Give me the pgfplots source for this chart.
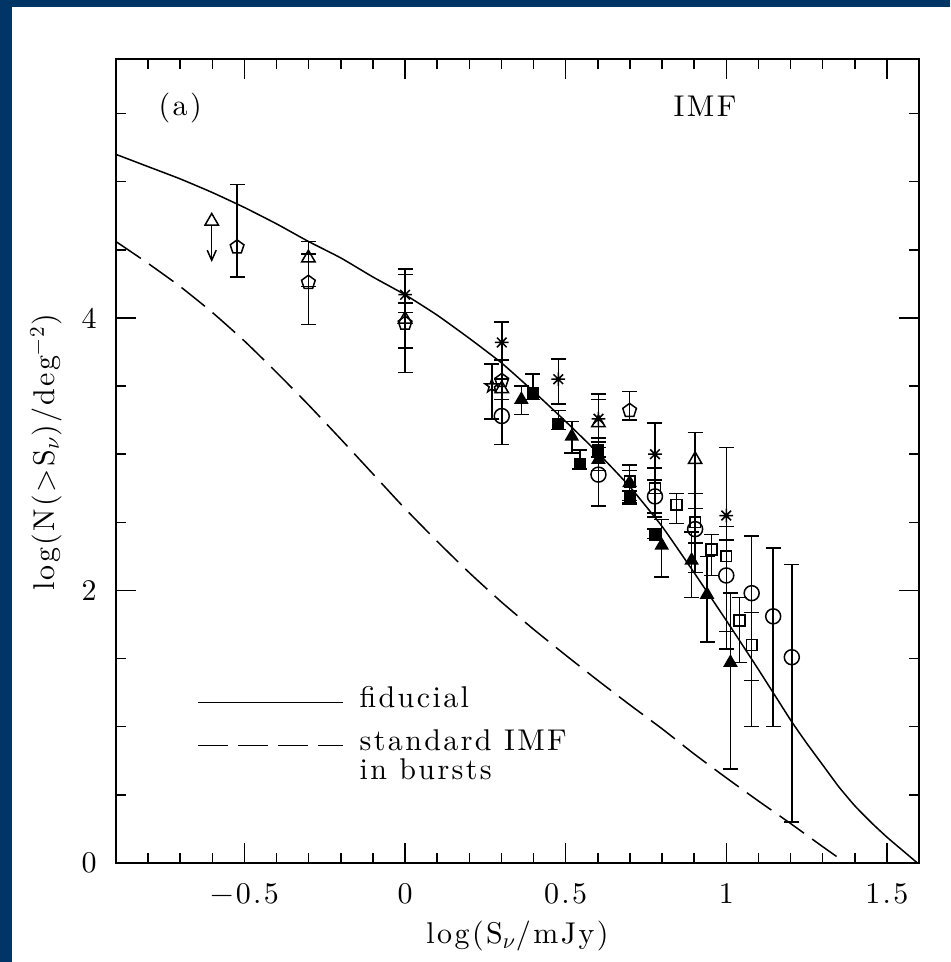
\documentclass[border=0pt]{standalone}
\usepackage{fontspec}
\setmainfont{lmroman10-regular.otf}[LetterSpace=8]
\usepackage{pgfplots}
\pgfplotsset{compat=1.18}
\usetikzlibrary{arrows.meta}
\definecolor{framenavy}{RGB}{0,53,102}
\newcommand\lbl{\fontsize{15}{18}\selectfont}

% eight-ray asterisk
\pgfdeclareplotmark{ast8}{%
  \pgfpathmoveto{\pgfqpoint{-\pgfplotmarksize}{0pt}}\pgfpathlineto{\pgfqpoint{\pgfplotmarksize}{0pt}}%
  \pgfpathmoveto{\pgfqpoint{0pt}{-\pgfplotmarksize}}\pgfpathlineto{\pgfqpoint{0pt}{\pgfplotmarksize}}%
  \pgfpathmoveto{\pgfqpoint{-.7071\pgfplotmarksize}{-.7071\pgfplotmarksize}}\pgfpathlineto{\pgfqpoint{.7071\pgfplotmarksize}{.7071\pgfplotmarksize}}%
  \pgfpathmoveto{\pgfqpoint{-.7071\pgfplotmarksize}{.7071\pgfplotmarksize}}\pgfpathlineto{\pgfqpoint{.7071\pgfplotmarksize}{-.7071\pgfplotmarksize}}%
  \pgfusepathqstroke}
% open five-pointed star
\pgfdeclareplotmark{ostar}{%
  \pgfpathmoveto{\pgfqpointpolar{90}{\pgfplotmarksize}}%
  \pgfpathlineto{\pgfqpointpolar{126}{.4\pgfplotmarksize}}%
  \pgfpathlineto{\pgfqpointpolar{162}{\pgfplotmarksize}}%
  \pgfpathlineto{\pgfqpointpolar{198}{.4\pgfplotmarksize}}%
  \pgfpathlineto{\pgfqpointpolar{234}{\pgfplotmarksize}}%
  \pgfpathlineto{\pgfqpointpolar{270}{.4\pgfplotmarksize}}%
  \pgfpathlineto{\pgfqpointpolar{306}{\pgfplotmarksize}}%
  \pgfpathlineto{\pgfqpointpolar{342}{.4\pgfplotmarksize}}%
  \pgfpathlineto{\pgfqpointpolar{18}{\pgfplotmarksize}}%
  \pgfpathlineto{\pgfqpointpolar{54}{.4\pgfplotmarksize}}%
  \pgfpathclose\pgfusepathqstroke}

\begin{document}
\begin{tikzpicture}
\useasboundingbox (0,0) rectangle (475pt,481pt);
\fill[white] (0,0) rectangle (475pt,481pt);
\fill[framenavy] (0,0) rectangle (6pt,481pt);
\fill[framenavy] (0,477.5pt) rectangle (475pt,481pt);
\begin{axis}[
  scale only axis, width=401.5pt, height=402pt,
  at={(58pt,49.5pt)}, anchor=south west,
  xmin=-0.9, xmax=1.6, ymin=0, ymax=5.9,
  axis line style={line width=0.9pt},
  tick style={line width=0.75pt, black},
  tick align=inside,
  major tick length=10pt, minor tick length=5pt,
  xtick={-0.5,0,0.5,1,1.5}, xticklabels={−0.5,0,0.5,1,1.5},
  minor xtick={-0.8,-0.7,-0.6,-0.4,-0.3,-0.2,-0.1,0.1,0.2,0.3,0.4,0.6,0.7,0.8,0.9,1.1,1.2,1.3,1.4},
  ytick={0,2,4}, yticklabels={0,2,4},
  minor ytick={0.5,1,1.5,2.5,3,3.5,4.5,5,5.5},
  xticklabel style={font=\lbl, inner sep=0pt, anchor=north, yshift=-10pt},
  yticklabel style={font=\lbl, inner sep=0pt, anchor=east, xshift=-9.5pt},
  xlabel={log(S$_\nu$/mJy)},
  ylabel={log(N(>S$_\nu$)/deg\textsuperscript{−2})},
  xlabel style={font=\lbl, inner sep=0pt, at={(axis description cs:0.5,0)}, anchor=north, yshift=-29pt},
  ylabel style={font=\lbl, inner sep=0pt, at={(axis description cs:-0.0872,0.5106)}, anchor=center},
  legend style={at={(axis description cs:0.1005,0.2205)}, anchor=north west,
    draw=none, fill=none, inner sep=0pt, row sep=9.6pt, column sep=8pt,
    font=\lbl, nodes={inner sep=0pt}, cells={anchor=base west}},
  legend image code/.code={\draw[#1] (0pt,2.5pt) -- (72.5pt,2.5pt);},
  error bars/y dir=both, error bars/y explicit,
  error bars/error bar style={line width=0.75pt, black},
  error bars/error mark options={rotate=90, mark size=3.75pt, line width=0.75pt, black},
  every axis plot/.append style={black, line width=0.75pt},
]

% model curves
\addplot[no markers, smooth, tension=0.3] coordinates {
 (-0.9,5.20) (-0.8,5.11) (-0.7,5.02) (-0.6,4.92) (-0.5,4.81) (-0.4,4.69)
 (-0.3,4.56) (-0.2,4.44) (-0.1,4.30) (0,4.17) (0.1,4.02) (0.2,3.85)
 (0.3,3.67) (0.4,3.46) (0.5,3.24) (0.6,3.01) (0.7,2.76) (0.8,2.47)
 (0.9,2.13) (1.0,1.78) (1.1,1.42) (1.2,1.05) (1.25,0.88) (1.3,0.72)
 (1.35,0.56) (1.4,0.42) (1.45,0.30) (1.5,0.19) (1.55,0.09) (1.6,-0.01)};
\addlegendentry{fiducial}
\addplot[no markers, smooth, tension=0.3, dash pattern=on 15pt off 5pt] coordinates {
 (-0.9,4.56) (-0.8,4.40) (-0.7,4.23) (-0.6,4.04) (-0.5,3.83) (-0.4,3.60)
 (-0.3,3.36) (-0.2,3.11) (-0.1,2.855) (0,2.60) (0.1,2.36) (0.2,2.13)
 (0.3,1.915) (0.4,1.715) (0.5,1.525) (0.6,1.34) (0.7,1.16) (0.8,0.985)
 (0.9,0.80) (1.0,0.625) (1.1,0.455) (1.2,0.29) (1.3,0.12) (1.345,0.045)};
\addlegendentry{\vtop{\baselineskip=14.5pt\lineskiplimit=-\maxdimen\hbox{standard IMF}\hbox{in bursts}}}

% open pentagons
\addplot[forget plot, only marks, mark=pentagon, mark size=3.6pt, mark options={solid}, error bars/.cd, y dir=both, y explicit] coordinates {
 (-0.523,4.52) += (0,0.46) -= (0,0.22)
 (-0.301,4.26) += (0,0.21) -= (0,0.31)
 (0.0,3.96) += (0,0.36) -= (0,0.36)
 (0.301,3.54) += (0,0.15) -= (0,0.14)
 (0.699,3.32) += (0,0.14) -= (0,0.07)};
% open triangles
\addplot[forget plot, only marks, mark=triangle, mark size=3.85pt, mark options={solid}, error bars/.cd, y dir=both, y explicit] coordinates {
 (-0.301,4.44) += (0,0.12) -= (0,0.21)
 (0.0,3.99) += (0,0.12) -= (0,0.21)
 (0.301,3.48) += (0,0.07) -= (0,0.08)
 (0.602,3.23) += (0,0.21) -= (0,0.14)
 (0.903,2.96) += (0,0.20) -= (0,0.25)};
% upper limit
\addplot[forget plot, only marks, mark=triangle, mark size=3.85pt, mark options={solid}] coordinates {(-0.602,4.71)};
\addplot[forget plot, no markers, -{Straight Barb[length=5pt,width=4.5pt]}, quiver={u=0,v=-0.27}] coordinates {(-0.602,4.68)};
% asterisks
\addplot[forget plot, only marks, mark=ast8, mark size=3.4pt, mark options={solid}, error bars/.cd, y dir=both, y explicit] coordinates {
 (0.0,4.17) += (0,0.19) -= (0,0.13)
 (0.301,3.82) += (0,0.15) -= (0,0.13)
 (0.477,3.55) += (0,0.15) -= (0,0.18)
 (0.602,3.26) += (0,0.14) -= (0,0.14)
 (0.778,3.00) += (0,0.23) -= (0,0.19)
 (1.0,2.55) += (0,0.50) -= (0,0.08)};
% open circles
\addplot[forget plot, only marks, mark=o, mark size=3.75pt, mark options={solid}, error bars/.cd, y dir=both, y explicit] coordinates {
 (0.301,3.28) += (0,0.12) -= (0,0.21)
 (0.602,2.85) += (0,0.20) -= (0,0.23)
 (0.778,2.69) += (0,0.21) -= (0,0.15)
 (0.903,2.45) += (0,0.15) -= (0,0.32)
 (1.0,2.11) += (0,0.36) -= (0,0.54)
 (1.079,1.98) += (0,0.42) -= (0,0.98)
 (1.146,1.81) += (0,0.50) -= (0,0.81)
 (1.204,1.51) += (0,0.68) -= (0,1.21)};
% open squares
\addplot[forget plot, only marks, mark=square, mark size=2.67pt, mark options={solid}, error bars/.cd, y dir=both, y explicit] coordinates {
 (0.699,2.80) += (0,0.12) -= (0,0.16)
 (0.778,2.75) += (0,0.15) -= (0,0.18)
 (0.845,2.63) += (0,0.08) -= (0,0.14)
 (0.903,2.50) += (0,0.21) -= (0,0.15)
 (0.954,2.30) += (0,0.11) -= (0,0.19)
 (1.0,2.25) += (0,0.12) -= (0,0.55)
 (1.041,1.78) += (0,0.17) -= (0,0.31)
 (1.079,1.60) += (0,0.24) -= (0,0.26)};
% filled squares
\addplot[forget plot, only marks, mark=square*, mark size=2.6pt, mark options={solid, fill=black}, error bars/.cd, y dir=both, y explicit] coordinates {
 (0.398,3.45) += (0,0.14) -= (0,0.05)
 (0.477,3.22) += (0,0.10) -= (0,0.04)
 (0.544,2.93) += (0,0.10) -= (0,0.04)
 (0.602,3.03) += (0,0.06) -= (0,0.05)
 (0.699,2.69) += (0,0.04) -= (0,0.06)
 (0.778,2.41) += (0,0.04) -= (0,0.03)};
% filled triangles
\addplot[forget plot, only marks, mark=triangle*, mark size=3.5pt, mark options={solid, fill=black}, error bars/.cd, y dir=both, y explicit] coordinates {
 (0.362,3.40) += (0,0.10) -= (0,0.11)
 (0.519,3.13) += (0,0.11) -= (0,0.12)
 (0.602,2.96) += (0,0.09) -= (0,0.08)
 (0.699,2.79) += (0,0.09) -= (0,0.13)
 (0.799,2.33) += (0,0.19) -= (0,0.23)
 (0.892,2.22) += (0,0.21) -= (0,0.27)
 (0.940,1.97) += (0,0.28) -= (0,0.35)
 (1.013,1.47) += (0,0.51) -= (0,0.78)};
% open star
\addplot[forget plot, only marks, mark=ostar, mark size=3.5pt, mark options={solid}, error bars/.cd, y dir=both, y explicit] coordinates {
 (0.27,3.50) += (0,0.16) -= (0,0.24)};

\node[font=\lbl, inner sep=0pt] at (axis cs:-0.70,5.54) {(a)};
\node[font=\lbl, inner sep=0pt] at (axis cs:0.934,5.55) {IMF};
\end{axis}
\end{tikzpicture}
\end{document}
